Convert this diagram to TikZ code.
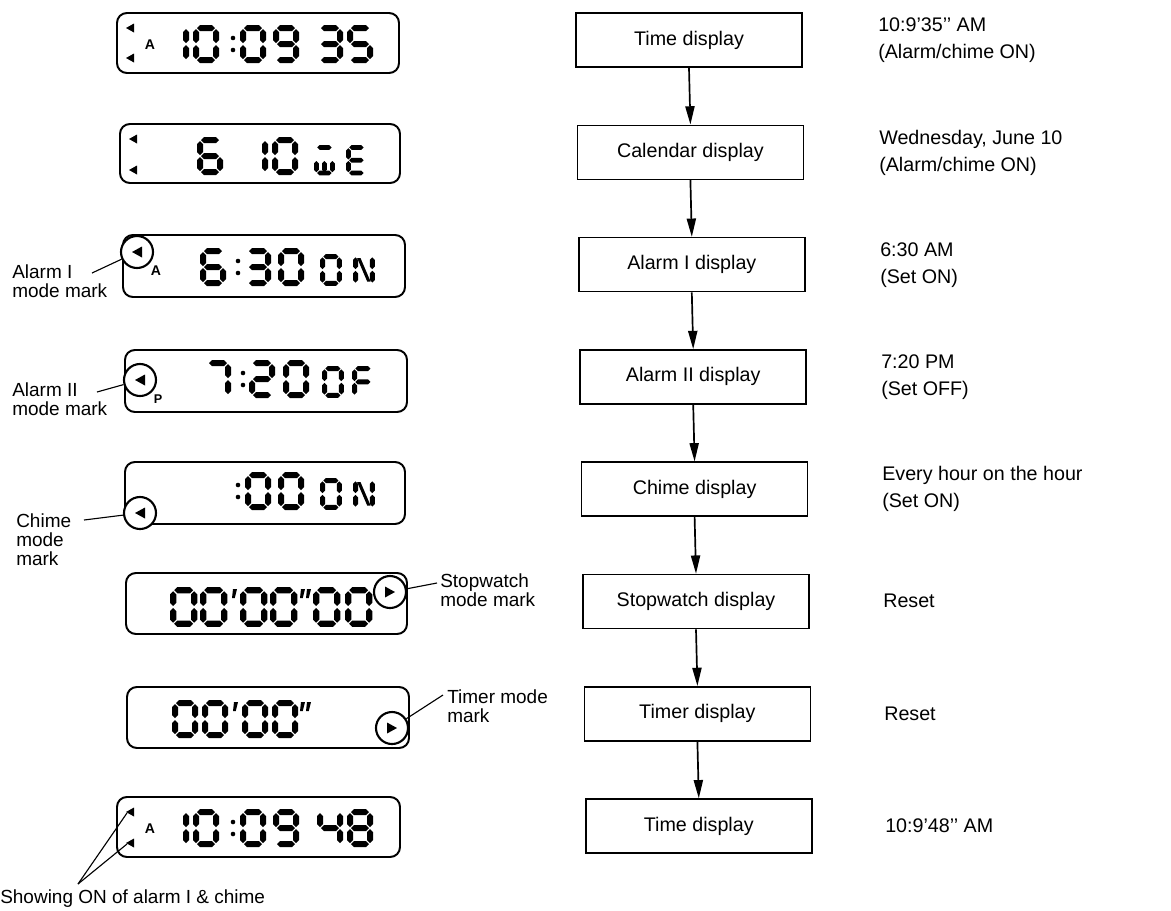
\documentclass[tikz,border=0pt]{standalone}
\usepackage{fontspec}
\setmainfont{Liberation Sans}
\usetikzlibrary{arrows.meta, positioning}

\tikzset{
  stage/.style    = {draw, line width=1.1pt, minimum width=5.65cm, minimum height=1.35cm,
                     font=\fontsize{14}{16}\selectfont, inner sep=0pt},
  note/.style     = {anchor=west, align=left, inner sep=0pt, font=\fontsize{14}{19}\selectfont},
  tag/.style      = {anchor=west, align=left, inner sep=0pt, font=\fontsize{13.5}{13.5}\selectfont},
  lcdframe/.style = {line width=1.4pt, rounded corners=7pt},
  modemark/.style = {circle, draw, line width=1.5pt, fill=white, minimum size=0.8cm, inner sep=0pt},
  flag/.style     = {inner sep=0pt, font=\bfseries\fontsize{10}{10}\selectfont},
  arrow/.style    = {line width=1.2pt, -{Triangle[length=13pt, width=6.5pt]}},
  leader/.style   = {line width=0.8pt}
}

% seven segment pieces (px units, y downwards), half thickness 3
\newcommand{\lcdh}[3]{\fill (#1,#3) -- ({#1+3},{#3-3}) -- ({#2-3},{#3-3}) -- (#2,#3)
  -- ({#2-3},{#3+3}) -- ({#1+3},{#3+3}) -- cycle;}
\newcommand{\lcdv}[3]{\fill (#1,#2) -- ({#1+3},{#2+3}) -- ({#1+3},{#3-3}) -- (#1,#3)
  -- ({#1-3},{#3-3}) -- ({#1-3},{#2+3}) -- cycle;}
\newcommand{\drawseg}[1]{%
  \if a#1\lcdh{4}{22}{3}\fi
  \if b#1\lcdv{23}{4}{18}\fi
  \if c#1\lcdv{23}{20}{34}\fi
  \if d#1\lcdh{4}{22}{35}\fi
  \if e#1\lcdv{3}{20}{34}\fi
  \if f#1\lcdv{3}{4}{18}\fi
  \if g#1\lcdh{4}{22}{19}\fi
  \if m#1\lcdv{13}{20}{34}\fi
  \if n#1\fill (5,5) -- (9,5) -- (21,33) -- (17,33) -- cycle;\fi}
\newcommand{\defglyph}[2]{\expandafter\def\csname lcd#1\endcsname{#2}}
\defglyph{0}{a,b,c,d,e,f}
\defglyph{1}{b,c}
\defglyph{2}{a,b,g,e,d}
\defglyph{3}{a,b,g,c,d}
\defglyph{4}{f,g,b,c}
\defglyph{5}{a,f,g,c,d}
\defglyph{6}{a,f,g,e,d,c}
\defglyph{7}{a,b,c}
\defglyph{8}{a,b,c,d,e,f,g}
\defglyph{9}{a,b,c,d,f,g}
\defglyph{E}{a,f,g,e,d}
\defglyph{F}{a,f,g,e}
\defglyph{O}{a,b,c,d,e,f}
\defglyph{N}{f,e,b,c,n}
\defglyph{W}{a,e,c,d,m}
\newcommand{\lcd}[4][1]{%
  \begin{scope}[shift={(#2,#3)}, scale=#1]
    \edef\seglist{\csname lcd#4\endcsname}%
    \foreach \s in \seglist {\drawseg{\s}}
  \end{scope}}
\newcommand{\lcdcolon}[2]{\fill (#1,{#2+13}) circle (2.3); \fill (#1,{#2+25}) circle (2.3);}
\newcommand{\lcdtick}[2]{\fill (#1,#2) -- ++(4,0) -- ++(-2.2,9) -- ++(-2.8,0) -- cycle;}
\newcommand{\lcdpip}[2]{\fill (#1,#2) -- ++(8,-4.5) -- ++(0,9) -- cycle;}

\begin{document}
\begin{tikzpicture}[x=0.025cm, y=-0.025cm]
\useasboundingbox (0,0) rectangle (1171,910);

% Flow of displays
\foreach \i/\txt in {1/Time display, 2/Calendar display, 3/Alarm I display, 4/Alarm II display,
                     5/Chime display, 6/Stopwatch display, 7/Timer display, 8/Time display}
  \node[stage] (t\i) at ({689+1.4*(\i-1)}, {40+112.3*(\i-1)}) {\txt};
\foreach \i [count=\j from 2] in {1,...,7}
  \draw[arrow] (t\i.south) -- (t\j.north);

% Readings
\node[note] (n1) at (878,40)  {10:9’35’’ AM\\(Alarm/chime ON)};
\node[note] (n2) at (879,153) {Wednesday, June 10\\(Alarm/chime ON)};
\node[note] (n3) at (880,265) {6:30 AM\\(Set ON)};
\node[note] (n4) at (881,377) {7:20 PM\\(Set OFF)};
\node[note] (n5) at (882,489) {Every hour on the hour\\(Set ON)};
\node[note] (n6) at (883,601) {Reset};
\node[note] (n7) at (884,714) {Reset};
\node[note] (n8) at (885,826) {10:9’48’’ AM};

% LCD 1: time
\draw[lcdframe] (117,13) rectangle (399,73);
\lcdpip{126}{28} \lcdpip{126}{58}
\node[flag] (a1) at (150,45) {A};
\lcd{163}{25}{1} \lcd{193}{25}{0} \lcdcolon{233}{25} \lcd{240}{25}{0} \lcd{273}{25}{9}
\lcd{317}{25}{3} \lcd{347}{25}{5}

% LCD 2: calendar
\draw[lcdframe] (120,124) rectangle (400,183);
\lcdpip{129}{139} \lcdpip{129}{170}
\lcd{197}{137}{6} \lcd{242}{137}{1} \lcd{272}{137}{0}
\lcd[0.8]{314}{145}{W} \lcd[0.8]{346}{145}{E}

% LCD 3: alarm I
\draw[lcdframe] (123,235) rectangle (405,297);
\node[modemark] (m3) at (137,252) {};
\fill ([shift={(-5,0)}]m3.center) -- ++(10,-5.5) -- ++(0,11) -- cycle;
\node[flag] (a3) at (156,271) {A};
\lcd{200}{248}{6} \lcdcolon{238}{248} \lcd{245}{248}{3} \lcd{278}{248}{0}
\lcd[0.84]{320}{254}{O} \lcd[0.84]{353}{254}{N}
\node[tag] (c3) at (12,281) {Alarm I\\mode mark};
\coordinate (l3) at (92,273);
\draw[leader] (l3) -- (m3);

% LCD 4: alarm II
\draw[lcdframe] (125,350) rectangle (407,412);
\node[modemark] (m4) at (140,380) {};
\fill ([shift={(-5,0)}]m4.center) -- ++(10,-5.5) -- ++(0,11) -- cycle;
\node[flag, font=\bfseries\fontsize{9}{9}\selectfont] (a4) at (158,399) {P};
\lcd{205}{360}{7} \lcdcolon{243}{360} \lcd{249}{360}{2} \lcd{283}{360}{0}
\lcd[0.84]{322}{366}{O} \lcd[0.84]{352}{366}{F}
\node[tag] (c4) at (12,399) {Alarm II\\mode mark};
\coordinate (l4) at (97,392);
\draw[leader] (l4) -- (m4);

% LCD 5: chime
\draw[lcdframe] (125,462) rectangle (405,524);
\node[modemark] (m5) at (140,513) {};
\fill ([shift={(-5,0)}]m5.center) -- ++(10,-5.5) -- ++(0,11) -- cycle;
\lcdcolon{238}{472} \lcd{245}{472}{0} \lcd{278}{472}{0}
\lcd[0.84]{320}{478}{O} \lcd[0.84]{353}{478}{N}
\node[tag] (c5) at (16,540) {Chime\\mode\\mark};
\coordinate (l5) at (84,520);
\draw[leader] (l5) -- (m5);

% LCD 6: stopwatch
\draw[lcdframe] (126,573) rectangle (407,634);
\lcd[1.05]{170}{587}{0} \lcd[1.05]{200}{587}{0} \lcdtick{233}{589}
\lcd[1.05]{240}{587}{0} \lcd[1.05]{270}{587}{0} \lcdtick{301}{589} \lcdtick{307}{589}
\lcd[1.05]{313}{587}{0} \lcd[1.05]{345}{587}{0}
\node[modemark] (m6) at (390,592) {};
\fill ([shift={(5,0)}]m6.center) -- ++(-10,-5.5) -- ++(0,11) -- cycle;
\node[tag] (c6) at (440,590) {Stopwatch\\mode mark};
\coordinate (l6) at (437,583);
\draw[leader] (l6) -- (m6);

% LCD 7: timer
\draw[lcdframe] (127,687) rectangle (409,748);
\lcd{172}{700}{0} \lcd{202}{700}{0} \lcdtick{234}{702}
\lcd{242}{700}{0} \lcd{272}{700}{0} \lcdtick{301}{702} \lcdtick{307}{702}
\node[modemark] (m7) at (392,728) {};
\fill ([shift={(5,0)}]m7.center) -- ++(-10,-5.5) -- ++(0,11) -- cycle;
\node[tag] (c7) at (447,706) {Timer mode\\mark};
\coordinate (l7) at (443,695);
\draw[leader] (l7) -- (m7);

% LCD 8: time again
\draw[lcdframe] (117,797) rectangle (400,857);
\lcdpip{126}{812} \lcdpip{126}{843}
\coordinate (p81) at (127,813);
\coordinate (p82) at (127,844);
\node[flag] (a8) at (150,829) {A};
\lcd{163}{809}{1} \lcd{193}{809}{0} \lcdcolon{233}{809} \lcd{240}{809}{0} \lcd{273}{809}{9}
\lcd{317}{809}{4} \lcd{347}{809}{8}
\node[tag] (c8) at (0,899) {Showing ON of alarm I \& chime};
\coordinate (s8) at (78,884);
\draw[leader] (s8) -- (p81);
\draw[leader] (s8) -- (p82);
\end{tikzpicture}
\end{document}
